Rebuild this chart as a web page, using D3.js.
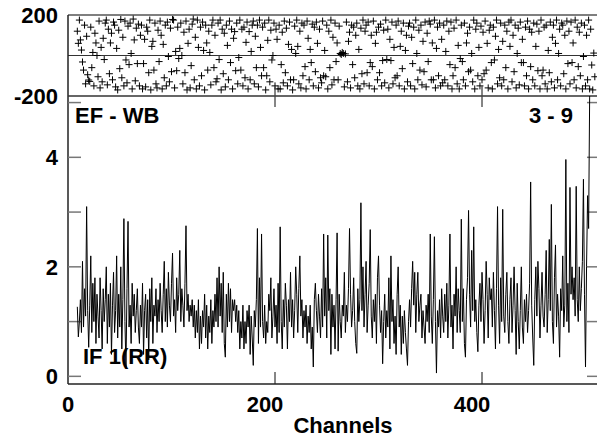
<!DOCTYPE html>
<html>
<head>
<meta charset="utf-8">
<script src="https://cdn.jsdelivr.net/npm/d3@7"></script>
<style>
  html, body { margin: 0; padding: 0; background: #fff; }
  svg { display: block; }
  text { font-family: "Liberation Sans", Arial, Helvetica, sans-serif; font-weight: bold; fill: #000; }
</style>
</head>
<body>
<script>
// ---------------- DATA ----------------
const firstChannel = 9;          // first plotted channel
const xTickValues = [0, 200, 400];
const ampTickLabels = [0, 2, 4];
const ampMinorTicks = [0, 1, 2, 3, 4, 5];
const phaseTickLabels = [200, -200];
const xLabel = "Channels";
const baselineName = "EF - WB";
const baselineIds = "3 - 9";
const ifLabel = "IF 1(RR)";

// amplitude per channel (starting at firstChannel)
const amplitude = [
  1.27,0.72,1.0,1.4,0.8,2.1,0.9,1.6,1.1,3.1,1.2,0.53,1.3,2.2,0.8,1.7,1.0,1.8,0.6,1.5,
  1.1,0.7,1.8,1.2,0.5,1.6,1.0,1.4,2.0,0.6,1.5,0.9,1.7,0.4,1.3,1.9,0.8,1.2,2.2,0.7,
  1.5,0.9,2.0,0.5,1.4,2.88,1.0,0.17,1.6,2.83,0.9,1.3,0.6,1.7,1.1,1.5,0.8,1.2,1.6,0.9,
  0.6,1.3,0.9,1.7,0.4,1.2,1.5,0.7,1.4,0.3,1.6,1.0,1.8,0.6,1.3,1.1,1.6,0.8,1.4,1.0,
  1.7,1.2,0.8,1.5,2.1,1.0,1.6,0.9,1.9,1.3,1.0,1.7,2.25,1.1,1.4,0.8,1.8,1.2,1.5,2.3,
  1.0,1.6,1.3,0.9,1.7,2.75,1.2,1.5,1.0,1.3,1.1,1.4,0.9,1.3,0.7,1.2,0.8,1.4,0.5,1.1,
  0.6,1.2,0.9,1.5,0.7,1.3,0.5,1.1,0.8,1.4,0.6,1.2,0.9,1.5,1.0,1.8,0.9,2.0,1.1,1.7,
  0.8,1.9,0.6,0.35,1.5,0.9,1.7,1.0,1.6,0.8,1.4,1.2,1.4,1.0,1.3,0.8,1.2,0.5,1.0,0.7,
  1.3,0.5,1.0,0.6,1.2,0.9,1.3,0.4,1.1,0.7,0.2,1.2,0.9,1.4,2.7,0.6,1.8,0.9,2.6,1.0,
  0.7,1.3,0.6,1.0,0.8,1.5,1.2,1.8,0.7,1.1,1.6,0.9,1.3,0.6,1.7,0.8,2.73,1.0,0.5,1.4,
  0.9,1.7,1.3,0.5,1.4,1.0,1.9,0.9,1.4,0.7,1.2,2.0,1.5,0.8,1.6,2.2,1.1,1.4,0.7,1.2,
  0.9,1.3,0.6,1.1,0.8,1.3,0.5,0.9,0.17,1.4,1.7,1.2,0.8,1.5,1.1,0.7,1.6,0.9,2.6,1.1,
  1.8,0.7,2.58,1.2,1.6,0.4,1.5,0.9,1.3,0.5,1.4,2.62,0.46,1.5,1.0,0.7,1.3,1.1,1.9,0.8,
  1.3,1.0,1.6,2.7,1.5,0.9,1.2,1.8,1.0,0.6,0.42,1.6,1.0,1.4,3.17,1.2,2.0,0.9,1.5,2.1,
  0.8,1.3,1.7,2.68,1.1,0.7,1.4,1.0,1.5,0.6,1.8,2.2,1.3,0.8,1.2,0.23,1.0,1.5,0.7,1.2,
  0.9,1.8,0.5,2.2,1.0,1.4,0.6,1.1,0.4,1.5,2.0,0.9,1.3,0.4,1.1,0.6,1.2,0.8,0.5,0.2,
  1.0,1.4,0.9,1.6,2.1,1.3,1.9,0.8,1.5,1.9,1.0,1.3,1.5,0.7,1.2,0.9,0.6,1.3,1.0,1.5,
  0.8,2.6,1.1,0.6,1.4,2.55,1.0,0.06,1.2,0.9,1.4,0.7,1.6,1.1,0.8,1.5,1.0,1.7,0.7,1.3,
  2.6,0.9,1.3,0.5,1.5,1.1,2.0,0.8,1.6,1.2,0.8,2.87,1.0,1.6,0.6,0.35,1.4,1.8,3.03,1.5,
  0.9,2.3,1.2,2.73,1.0,1.4,0.8,0.45,1.3,1.7,1.0,1.9,1.4,0.6,1.2,2.1,1.5,0.7,1.8,1.4,
  1.6,0.9,1.9,1.2,0.5,1.6,3.1,1.3,0.6,1.8,1.0,3.05,1.1,0.8,1.5,1.9,1.0,0.6,1.4,1.8,
  0.8,1.3,2.0,1.2,0.4,1.7,1.0,0.5,1.2,2.0,0.9,0.6,1.4,1.0,1.5,0.8,1.2,1.7,3.55,1.3,
  0.7,0.2,1.4,2.0,1.1,2.1,1.6,0.7,1.3,1.9,1.1,0.9,1.5,2.3,0.8,1.4,2.5,1.2,3.14,1.0,
  0.6,1.8,2.4,0.9,1.5,1.1,0.35,1.6,1.2,2.2,0.9,1.3,3.96,1.0,1.7,0.8,3.45,1.5,2.0,1.4,
  1.8,1.1,3.47,1.4,1.0,2.0,1.2,1.6,2.1,3.6,1.5,0.17,2.0,3.3,2.7,5.1,5.6
];

// phase (degrees) per channel (starting at firstChannel)
const phase = [
  120,60,175,77,27,-32,-72,150,-140,95,-95,-121,-128,140,-60,15,-150,110,62,0,
  -105,170,-160,40,-130,85,-20,160,175,-145,130,-90,62,110,-120,165,150,-155,35,-170,
  125,-65,178,-110,90,-150,170,-22,-135,145,-45,160,10,-165,180,77,-125,135,-40,155,
  -150,100,150,-165,-40,80,-155,140,120,-85,175,-170,45,70,-72,160,-140,-160,125,-30,
  170,100,-165,55,-110,150,-150,165,-5,-130,135,-80,178,175,-160,20,-75,140,-15,35,
  160,0,-140,115,-85,170,-170,60,130,-160,-50,155,180,-120,90,-165,175,40,-150,140,
  -100,165,25,-170,150,62,-72,120,15,-145,150,175,-60,100,-130,-115,160,-20,175,-170,
  130,-90,110,-155,150,50,-120,170,-35,130,-165,85,118,-75,160,-140,-10,175,-72,130,
  -150,140,-110,65,165,-165,118,-120,20,150,170,-140,95,-60,150,-155,175,40,-100,140,
  -60,160,-170,-100,75,175,-130,125,-22,0,160,-150,130,80,-165,150,-165,-45,115,-135,
  170,-85,135,-150,55,165,-120,30,-170,-120,145,10,175,45,-140,120,-160,160,-100,150,
  -55,-165,170,85,-120,30,-35,155,-150,140,-80,165,60,-160,130,-110,-135,170,-100,25,
  -105,150,-165,120,-60,175,-145,90,-120,160,-30,62,-120,145,10,5,15,10,-155,8,
  165,-130,70,115,-160,150,-45,140,-110,100,160,-150,30,-165,135,-90,175,-140,120,150,
  -85,165,-150,-35,100,-55,170,-165,60,115,-120,140,-85,155,-150,-25,125,-135,175,-20,
  130,-160,80,-25,165,-140,40,-110,150,-100,170,-150,45,120,-65,160,-165,25,100,-130,
  145,160,-150,90,-40,140,-165,175,10,-120,125,-72,150,-145,70,-80,165,-155,110,-30,
  170,155,-120,62,-120,175,-160,35,140,-100,160,-150,80,-135,150,-120,20,170,-150,120,
  -45,165,-165,-100,135,-60,175,-140,50,-165,-15,150,-30,-120,160,-150,62,110,-80,140,
  -72,10,-130,175,-165,130,160,-100,40,-150,145,-120,115,-90,170,-72,60,-160,125,150,
  -35,-165,140,-22,95,175,-140,30,-110,160,-150,70,-120,150,-60,120,-165,165,45,175,
  -130,100,-80,150,-160,10,135,-145,165,-35,80,-35,-150,140,-100,170,-165,130,-55,115,
  -120,160,-150,45,155,-75,120,-165,175,-100,-72,140,-140,150,-165,25,-85,165,-130,90,
  150,-160,60,175,-120,10,130,-150,160,150,-90,100,-165,170,-40,120,-140,165,-35,62,
  -120,175,-160,140,-55,115,-100,160,-165,-5,150,-150,100,-120,175,-165,130,-47,-170,12,-105
];

// ---------------- LAYOUT ----------------
const W = 597, H = 437;
const left = 68, right = 600;
const topY0 = 15, topY1 = 96;     // phase panel
const botY0 = 96, botY1 = 384;    // amplitude panel

const svg = d3.select("body").append("svg").attr("width", W).attr("height", H);

const x = d3.scaleLinear().domain([0, 514]).range([left, right]);
const yPh = d3.scaleLinear().domain([-200, 200]).range([topY1, topY0]);
const yAmp = d3.scaleLinear().domain([-0.14, 5.12]).range([botY1, botY0]);

const ampData = amplitude.map((v, i) => ({ ch: firstChannel + i, v }));
const phData = phase.map((v, i) => ({ ch: firstChannel + i, v }));

// clip for amplitude
svg.append("clipPath").attr("id", "clipAmp")
  .append("rect").attr("x", left).attr("y", botY0).attr("width", right - left).attr("height", botY1 - botY0);

// ---- phase panel ----
const frameColor = "#222";
const tickColor = "#777";
svg.append("line").attr("x1", left).attr("x2", W).attr("y1", topY0).attr("y2", topY0)
  .attr("stroke", "#555").attr("stroke-width", 1.5);
svg.append("line").attr("x1", left).attr("x2", W).attr("y1", yPh(0)).attr("y2", yPh(0))
  .attr("stroke", "#333").attr("stroke-width", 1.2);
svg.append("line").attr("x1", left).attr("x2", left).attr("y1", topY0).attr("y2", botY1)
  .attr("stroke", frameColor).attr("stroke-width", 1.5);

const plus = svg.append("g");
phData.forEach(d => {
  const cx = x(d.ch), cy = yPh(d.v), s = 3.5;
  plus.append("path")
    .attr("d", `M${cx - s},${cy}H${cx + s}M${cx},${cy - s}V${cy + s}`)
    .attr("stroke", "#000").attr("stroke-width", 1).attr("fill", "none");
});

svg.append("line").attr("x1", left).attr("x2", W).attr("y1", topY1).attr("y2", topY1)
  .attr("stroke", "#333").attr("stroke-width", 1.5);

// phase tick labels
svg.append("g").selectAll("text").data(phaseTickLabels).join("text")
  .attr("x", 58).attr("y", d => yPh(d) + 8)
  .attr("text-anchor", "end").attr("font-size", 22).text(d => d);

// x ticks around panel boundary
xTickValues.filter(v => v > 0).forEach(v => {
  svg.append("line").attr("x1", x(v)).attr("x2", x(v)).attr("y1", topY1 - 10).attr("y2", botY0 + 11)
    .attr("stroke", "#444").attr("stroke-width", 1.3);
  svg.append("line").attr("x1", x(v)).attr("x2", x(v)).attr("y1", botY1 - 12).attr("y2", botY1)
    .attr("stroke", "#444").attr("stroke-width", 1.3);
});

// ---- amplitude panel ----
ampMinorTicks.forEach(v => {
  svg.append("line").attr("x1", left).attr("x2", left + 13).attr("y1", yAmp(v)).attr("y2", yAmp(v))
    .attr("stroke", tickColor).attr("stroke-width", 1.5);
  svg.append("line").attr("x1", right - 13).attr("x2", right).attr("y1", yAmp(v)).attr("y2", yAmp(v))
    .attr("stroke", tickColor).attr("stroke-width", 1.5);
});

const line = d3.line().x(d => x(d.ch)).y(d => yAmp(d.v));
svg.append("path").datum(ampData)
  .attr("clip-path", "url(#clipAmp)")
  .attr("d", line).attr("fill", "none").attr("stroke", "#000").attr("stroke-width", 1);

svg.append("line").attr("x1", left).attr("x2", W).attr("y1", botY1).attr("y2", botY1)
  .attr("stroke", frameColor).attr("stroke-width", 1.5);

// amplitude tick labels
svg.append("g").selectAll("text").data(ampTickLabels).join("text")
  .attr("x", 58).attr("y", d => yAmp(d) + 8)
  .attr("text-anchor", "end").attr("font-size", 22).text(d => d);

// x tick labels
svg.append("g").selectAll("text").data(xTickValues).join("text")
  .attr("x", d => x(d) - (d > 0 ? 10 : 0)).attr("y", 412)
  .attr("text-anchor", "middle").attr("font-size", 22).text(d => d);

svg.append("text").attr("x", 343).attr("y", 433).attr("text-anchor", "middle")
  .attr("font-size", 22).text(xLabel);

// annotations
svg.append("text").attr("x", 75).attr("y", 123).attr("font-size", 22).text(baselineName);
svg.append("text").attr("x", 573).attr("y", 123).attr("text-anchor", "end").attr("font-size", 22).text(baselineIds);
svg.append("text").attr("x", 83).attr("y", 364).attr("font-size", 22).text(ifLabel);
</script>
</body>
</html>
